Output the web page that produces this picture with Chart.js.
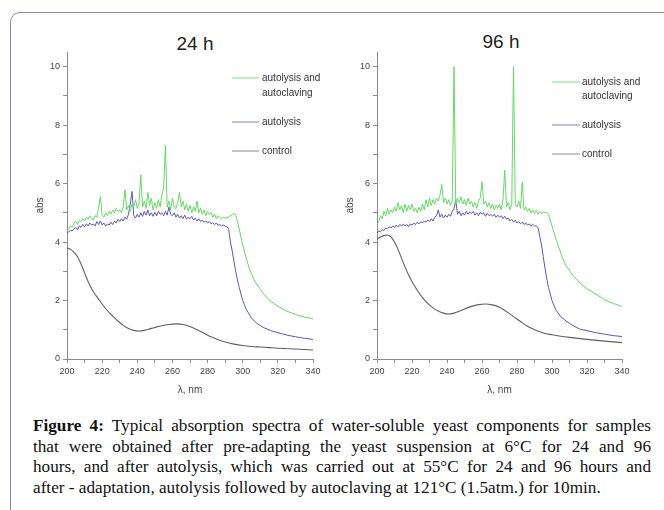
<!DOCTYPE html>
<html>
<head>
<meta charset="utf-8">
<script src="https://cdn.jsdelivr.net/npm/chart.js@4.4.1/dist/chart.umd.min.js"></script>
<style>
  body { margin: 0; width: 664px; height: 510px; background: #fff; position: relative; overflow: hidden; }
  #frame { position: absolute; left: 10px; top: 12px; width: 700px; height: 600px; border: 1.5px solid #8f87c2; border-radius: 10px; }
  .cv { position: absolute; }
  .ttl { position: absolute; font-family: "Liberation Sans", Arial, sans-serif; font-size: 19px; color: #222; width: 100px; text-align: center; }
  #caption { position: absolute; left: 33px; top: 416px; width: 618px; font-family: "Liberation Serif", "Times New Roman", serif; font-size: 17.2px; line-height: 20.7px; color: #111; }
  #caption span { display: block; white-space: nowrap; text-align: justify; text-align-last: justify; }
  #caption span.last { text-align-last: left; }
</style>
</head>
<body>
<div id="frame"></div>
<div class="ttl" style="left:145px;top:33px;">24 h</div>
<div class="ttl" style="left:451px;top:31px;">96 h</div>
<canvas id="c24" class="cv" style="left:0px;top:40px;" width="325" height="364"></canvas>
<canvas id="c96" class="cv" style="left:310px;top:40px;" width="354" height="364"></canvas>
<div id="caption">
  <span><b>Figure 4:</b> Typical absorption spectra of water-soluble yeast components for samples</span>
  <span>that were obtained after pre-adapting the yeast suspension at 6°C for 24 and 96</span>
  <span>hours, and after autolysis, which was carried out at 55°C for 24 and 96 hours and</span>
  <span class="last">after - adaptation, autolysis followed by autoclaving at 121°C (1.5atm.) for 10min.</span>
</div>
<script>
// ---- data: 1 nm steps from 200 nm in the noisy part, then the tail ----
var fineStart = 200;

// 24 h
var green24Fine = [
  4.40, 4.45, 4.55, 4.50, 4.65, 4.70, 4.60, 4.75, 4.70, 4.80,
  4.72, 4.85, 4.78, 4.90, 4.80, 4.75, 4.90, 4.85, 5.20, 5.56,
  4.90, 4.85, 5.00, 4.90, 5.05, 4.95, 5.10, 5.00, 5.15, 5.05,
  5.10, 5.00, 5.20, 5.79, 5.10, 5.25, 5.05, 5.30, 5.20, 5.45,
  5.15, 5.35, 6.30, 5.20, 5.40, 5.15, 5.70, 5.25, 5.50, 5.10,
  5.35, 5.15, 5.45, 5.20, 5.60, 5.85, 7.30, 5.20, 5.40, 5.10,
  5.50, 5.20, 5.15, 5.35, 5.70, 5.20, 5.40, 5.10, 5.30, 5.05,
  5.25, 5.00, 5.20, 5.05, 5.40, 5.00, 5.15, 4.95, 5.10, 4.90,
  5.05, 4.95, 5.00, 4.85, 4.95, 4.80, 4.90, 4.85, 4.80, 4.85, 4.82
];
var green24TailWl = [292, 294, 295, 296, 297, 298, 300, 302, 304, 307, 310, 312, 315, 320, 325, 330, 335, 340];
var green24Tail = [4.85, 4.95, 4.98, 4.92, 4.70, 4.45, 3.90, 3.45, 3.05, 2.65, 2.38, 2.22, 2.02, 1.80, 1.64, 1.52, 1.44, 1.37];

var blue24Fine = [
  4.30, 4.35, 4.40, 4.38, 4.45, 4.50, 4.42, 4.55, 4.50, 4.60,
  4.52, 4.62, 4.55, 4.65, 4.58, 4.62, 4.55, 4.70, 4.60, 4.72,
  4.58, 4.65, 4.55, 4.62, 4.58, 4.68, 4.60, 4.72, 4.65, 4.78,
  4.70, 4.80, 4.72, 4.85, 4.78, 4.95, 5.30, 5.73, 4.90, 4.82,
  4.95, 4.85, 5.00, 4.88, 5.05, 4.92, 5.10, 4.90, 5.00, 4.88,
  5.02, 4.90, 5.05, 4.95, 5.00, 4.90, 5.05, 4.92, 5.20, 4.95,
  4.90, 5.00, 4.85, 4.95, 4.82, 4.90, 4.80, 4.92, 4.78, 4.85,
  4.80, 4.88, 4.75, 4.82, 4.72, 4.80, 4.70, 4.75, 4.68, 4.72,
  4.65, 4.70, 4.62, 4.66, 4.60, 4.65, 4.58, 4.60, 4.55, 4.58, 4.55
];
var blue24TailWl = [291, 292, 293, 294, 295, 296, 297, 298, 300, 302, 305, 308, 312, 316, 320, 325, 330, 335, 340];
var blue24Tail = [4.52, 4.45, 4.00, 3.70, 3.35, 3.00, 2.70, 2.45, 2.00, 1.70, 1.40, 1.22, 1.07, 0.97, 0.90, 0.82, 0.76, 0.71, 0.67];

var control24Wl = [200, 202, 204, 206, 208, 210, 212, 215, 218, 220, 223, 226, 229, 232, 235, 238, 241, 244, 247, 250,
  254, 258, 262, 266, 270, 274, 278, 282, 286, 290, 295, 300, 305, 310, 315, 320, 330, 340];
var control24 = [3.80, 3.75, 3.65, 3.50, 3.25, 2.95, 2.65, 2.30, 2.05, 1.88, 1.65, 1.47, 1.30, 1.15, 1.04, 0.98, 0.96, 0.98, 1.03, 1.08,
  1.14, 1.18, 1.20, 1.18, 1.11, 1.00, 0.88, 0.76, 0.66, 0.58, 0.51, 0.46, 0.43, 0.41, 0.39, 0.37, 0.34, 0.31];

// 96 h
var green96Fine = [
  4.60, 4.70, 4.90, 4.80, 5.05, 4.90, 5.15, 4.95, 5.10, 5.00,
  5.20, 5.05, 5.35, 5.10, 5.25, 5.00, 5.30, 5.05, 5.25, 5.10,
  5.30, 5.05, 5.15, 5.00, 5.20, 5.05, 5.30, 5.10, 5.45, 5.20,
  5.50, 5.25, 5.45, 5.30, 5.50, 5.40, 5.60, 5.97, 5.35, 5.50,
  5.30, 5.45, 5.25, 5.40, 10.0, 5.30, 5.50, 5.35, 5.55, 5.30,
  5.45, 5.25, 5.50, 5.30, 5.40, 5.20, 5.35, 5.15, 5.40, 5.50,
  6.07, 5.30, 5.40, 5.20, 5.35, 5.15, 5.30, 5.10, 5.25, 5.15,
  5.30, 5.10, 5.45, 6.46, 5.20, 5.35, 5.10, 5.30, 10.0, 5.30,
  5.20, 5.40, 5.15, 6.05, 5.10, 5.20, 5.05, 5.15, 5.00, 5.10,
  4.98, 5.08, 4.95, 5.05, 4.98, 5.02
];
var green96TailWl = [296, 297, 298, 300, 302, 304, 306, 308, 312, 316, 320, 325, 330, 335, 340];
var green96Tail = [5.00, 5.02, 4.95, 4.55, 4.15, 3.80, 3.45, 3.20, 2.85, 2.60, 2.40, 2.22, 2.03, 1.90, 1.80];

var blue96Fine = [
  4.30, 4.38, 4.35, 4.42, 4.40, 4.48, 4.45, 4.52, 4.48, 4.55,
  4.50, 4.58, 4.52, 4.60, 4.55, 4.62, 4.55, 4.60, 4.52, 4.62,
  4.58, 4.65, 4.60, 4.68, 4.62, 4.70, 4.65, 4.72, 4.68, 4.75,
  4.70, 4.80, 4.72, 4.85, 4.90, 5.10, 4.85, 4.95, 4.82, 4.92,
  4.85, 4.95, 4.88, 5.05, 5.15, 5.43, 4.95, 5.05, 4.90, 5.00,
  4.92, 5.05, 4.95, 5.02, 4.98, 5.05, 4.92, 5.00, 4.90, 5.02,
  4.95, 5.00, 4.88, 4.98, 4.90, 4.95, 4.88, 4.95, 4.85, 4.92,
  4.85, 4.90, 4.80, 4.88, 4.78, 4.82, 4.72, 4.78, 4.68, 4.75,
  4.65, 4.70, 4.62, 4.68, 4.60, 4.65, 4.58, 4.62, 4.55, 4.60, 4.55
];
var blue96TailWl = [291, 292, 293, 294, 295, 296, 297, 298, 300, 302, 305, 308, 312, 316, 320, 325, 330, 335, 340];
var blue96Tail = [4.55, 4.50, 4.20, 3.90, 3.50, 3.10, 2.75, 2.45, 2.00, 1.70, 1.45, 1.30, 1.14, 1.02, 0.97, 0.90, 0.85, 0.80, 0.77];

var control96Wl = [200, 202, 204, 206, 208, 210, 212, 214, 216, 218, 220, 223, 226, 229, 232, 235, 238, 241, 244, 247,
  250, 254, 258, 262, 266, 270, 274, 278, 282, 286, 290, 295, 300, 305, 310, 320, 330, 340];
var control96 = [4.10, 4.17, 4.22, 4.24, 4.18, 4.00, 3.75, 3.45, 3.15, 2.88, 2.65, 2.35, 2.10, 1.90, 1.75, 1.64, 1.57, 1.54, 1.57, 1.63,
  1.71, 1.80, 1.86, 1.88, 1.85, 1.77, 1.62, 1.45, 1.28, 1.12, 1.00, 0.89, 0.83, 0.78, 0.74, 0.67, 0.61, 0.56];

var seriesNames = ['autolysis and|autoclaving', 'autolysis', 'control'];
var xTicks = [200, 220, 240, 260, 280, 300, 320, 340];
var yTicks = [0, 2, 4, 6, 8, 10];

// ---- helpers ----
function joinPts(fine, tailWl, tail) {
  var pts = fine.map(function (v, i) { return { x: fineStart + i, y: v }; });
  tailWl.forEach(function (w, i) { pts.push({ x: w, y: tail[i] }); });
  return pts;
}
function pairPts(wl, vals) {
  return wl.map(function (w, i) { return { x: w, y: vals[i] }; });
}

var lineColors = ['rgb(98,218,98)', 'rgb(88,88,186)', 'rgb(96,96,96)'];
var legendColors = ['rgb(150,226,150)', 'rgb(150,150,208)', 'rgb(160,160,160)'];

// legend drawn inside the plot, like the original figure
var insideLegend = {
  id: 'insideLegend',
  afterDraw: function (chart, args, opts) {
    var ctx = chart.ctx;
    ctx.save();
    ctx.font = '10px "Liberation Sans", Arial, sans-serif';
    ctx.textBaseline = 'middle';
    ctx.fillStyle = '#333';
    seriesNames.forEach(function (name, i) {
      var y = opts.rows[i];
      ctx.strokeStyle = legendColors[i];
      ctx.lineWidth = 1.2;
      ctx.beginPath();
      ctx.moveTo(opts.x1, y);
      ctx.lineTo(opts.x2, y);
      ctx.stroke();
      name.split('|').forEach(function (part, k) {
        ctx.fillText(part, opts.tx, y + k * opts.gap);
      });
    });
    ctx.restore();
  }
};

function makeChart(id, green, blue, control, legendPos, padRight) {
  var tickFont = { family: '"Liberation Sans", Arial, sans-serif', size: 9 };
  return new Chart(document.getElementById(id), {
    type: 'line',
    data: {
      datasets: [
        { label: 'autolysis and autoclaving', data: green, borderColor: lineColors[0], borderWidth: 1, pointRadius: 0, tension: 0 },
        { label: 'autolysis', data: blue, borderColor: lineColors[1], borderWidth: 1, pointRadius: 0, tension: 0 },
        { label: 'control', data: control, borderColor: lineColors[2], borderWidth: 1.1, pointRadius: 0, cubicInterpolationMode: 'monotone' }
      ]
    },
    options: {
      responsive: false,
      animation: false,
      layout: { padding: { left: 0, right: padRight, top: 12, bottom: 0 } },
      plugins: {
        legend: { display: false },
        tooltip: { enabled: false },
        insideLegend: legendPos
      },
      scales: {
        x: {
          type: 'linear', min: 200, max: 340,
          afterBuildTicks: function (s) {
            s.ticks = [];
            for (var v = 200; v <= 340; v += 10) s.ticks.push({ value: v });
          },
          ticks: {
            autoSkip: false, maxRotation: 0, padding: 3, color: '#444', font: tickFont,
            callback: function (v) { return xTicks.indexOf(v) >= 0 ? String(v) : ''; }
          },
          grid: { drawOnChartArea: false, tickLength: 4, tickColor: '#8a8a8a' },
          border: { color: '#8a8a8a' },
          title: { display: true, text: 'λ, nm', color: '#444', font: { family: '"Liberation Sans", Arial, sans-serif', size: 10 }, padding: { top: 0, bottom: 8 } },
          afterFit: function (s) { s.height = 45; }
        },
        y: {
          min: 0, max: 10.5,
          afterBuildTicks: function (s) {
            s.ticks = [];
            for (var v = 0; v <= 10; v += 1) s.ticks.push({ value: v });
          },
          ticks: {
            autoSkip: false, padding: 3, color: '#444', font: tickFont,
            callback: function (v) { return yTicks.indexOf(v) >= 0 ? String(v) : ''; }
          },
          grid: { drawOnChartArea: false, tickLength: 4, tickColor: '#8a8a8a' },
          border: { color: '#8a8a8a' },
          title: { display: true, text: 'abs', color: '#444', font: { family: '"Liberation Sans", Arial, sans-serif', size: 10 }, padding: { top: 34, bottom: 0 } },
          afterFit: function (s) { s.width = 67; }
        }
      }
    },
    plugins: [insideLegend]
  });
}

makeChart('c24',
  joinPts(green24Fine, green24TailWl, green24Tail),
  joinPts(blue24Fine, blue24TailWl, blue24Tail),
  pairPts(control24Wl, control24),
  { x1: 232, x2: 259, tx: 262, rows: [38, 82, 111], gap: 15 }, 12);

makeChart('c96',
  joinPts(green96Fine, green96TailWl, green96Tail),
  joinPts(blue96Fine, blue96TailWl, blue96Tail),
  pairPts(control96Wl, control96),
  { x1: 242, x2: 270, tx: 272, rows: [42, 85, 114], gap: 14 }, 42);
</script>
</body>
</html>
